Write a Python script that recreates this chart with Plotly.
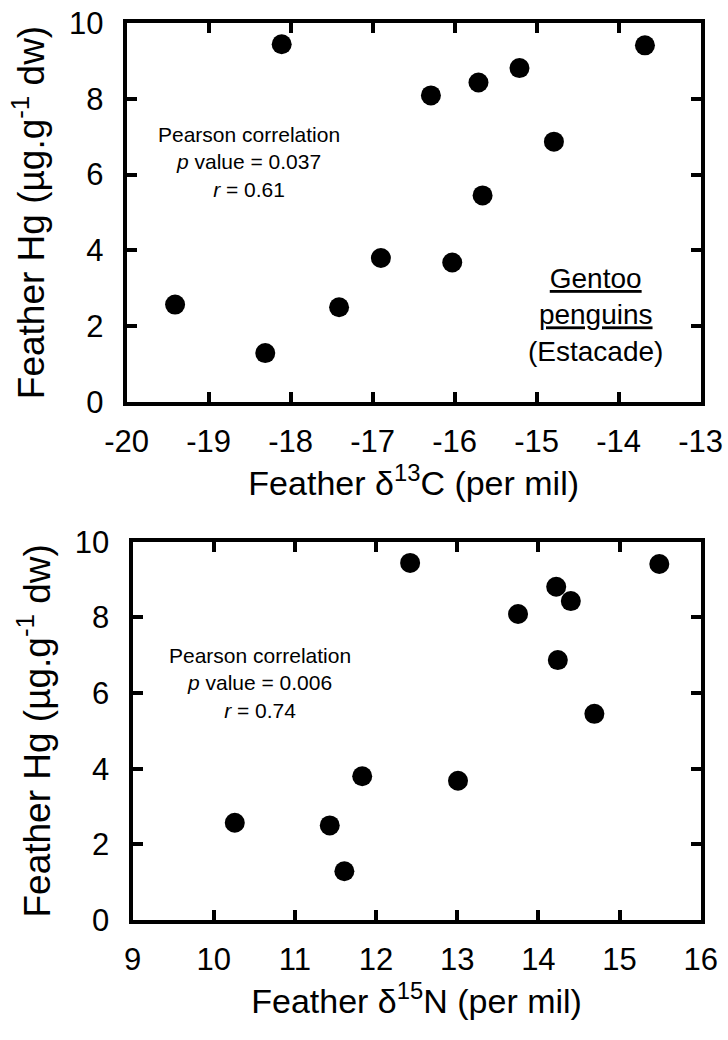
import plotly.graph_objects as go

# Data
hg = [2.57, 1.29, 9.44, 2.50, 3.80, 3.68, 8.09, 8.43, 5.45, 8.81, 6.87, 9.41]
d13c = [-19.41, -18.31, -18.11, -17.41, -16.90, -16.03, -16.29, -15.71, -15.66, -15.21, -14.79, -13.68]
d15n = [10.26, 11.61, 12.42, 11.43, 11.83, 13.01, 13.75, 14.40, 14.69, 14.22, 14.24, 15.49]

x1_ticks = [-20, -19, -18, -17, -16, -15, -14, -13]
x2_ticks = [9, 10, 11, 12, 13, 14, 15, 16]
y_ticks = [0, 2, 4, 6, 8, 10]

FONT = "Arial, 'Liberation Sans', sans-serif"
W, H = 728, 1040

fig = go.Figure()
marker = dict(color="black", size=20, line=dict(width=0))
fig.add_trace(go.Scatter(x=d13c, y=hg, mode="markers", marker=marker, xaxis="x", yaxis="y", showlegend=False))
fig.add_trace(go.Scatter(x=d15n, y=hg, mode="markers", marker=marker, xaxis="x2", yaxis="y2", showlegend=False))

common = dict(showline=True, linewidth=4, linecolor="black", mirror="ticks",
              ticks="inside", ticklen=10, tickwidth=3.5, tickcolor="black",
              showgrid=False, zeroline=False, automargin=False, fixedrange=True,
              tickfont=dict(family=FONT, size=31, color="black"))

def xax(domain, rng, ticks, title, anchor):
    return dict(domain=domain, range=rng, tickvals=ticks, ticktext=[str(t) for t in ticks],
                anchor=anchor, ticklabelstandoff=9,
                title=dict(text=title, font=dict(family=FONT, size=34, color="black"), standoff=13),
                **common)

def yax(domain, anchor):
    return dict(domain=domain, range=[0, 10], tickvals=y_ticks, ticktext=[str(t) for t in y_ticks],
                anchor=anchor, ticklabelstandoff=13,
                title=dict(text="Feather Hg (µg.g<sup>-1</sup> dw)", font=dict(family=FONT, size=37, color="black"), standoff=14),
                **common)

fig.update_layout(
    width=W, height=H, margin=dict(l=0, r=0, t=0, b=0),
    paper_bgcolor="white", plot_bgcolor="white",
    xaxis=xax([126.7 / W, 700.7 / W], [-20, -13], x1_ticks, "Feather δ<sup>13</sup>C (per mil)", "y"),
    yaxis=yax([1 - 402 / H, 1 - 23 / H], "x"),
    xaxis2=xax([132.5 / W, 700.7 / W], [9, 16], x2_ticks, "Feather δ<sup>15</sup>N (per mil)", "y2"),
    yaxis2=yax([1 - 920 / H, 1 - 541.7 / H], "x2"),
    font=dict(family=FONT, color="black"),
)

ann_font = dict(family=FONT, size=21, color="black")
fig.add_annotation(x=-18.51, y=6.33, xref="x", yref="y", showarrow=False, align="center",
                   text="Pearson correlation<br><i>p</i> value = 0.037<br><i>r</i> = 0.61", font=ann_font)
fig.add_annotation(x=10.57, y=6.26, xref="x2", yref="y2", showarrow=False, align="center",
                   text="Pearson correlation<br><i>p</i> value = 0.006<br><i>r</i> = 0.74", font=ann_font)
fig.add_annotation(x=-14.28, y=2.30, xref="x", yref="y", showarrow=False, align="center",
                   text="<u>Gentoo</u><br><u>penguins</u><br>(Estacade)",
                   font=dict(family=FONT, size=28, color="black"))

fig.write_html("out.html", config={"displayModeBar": False},
               post_script="document.body.style.margin='0';document.body.style.padding='0';")
